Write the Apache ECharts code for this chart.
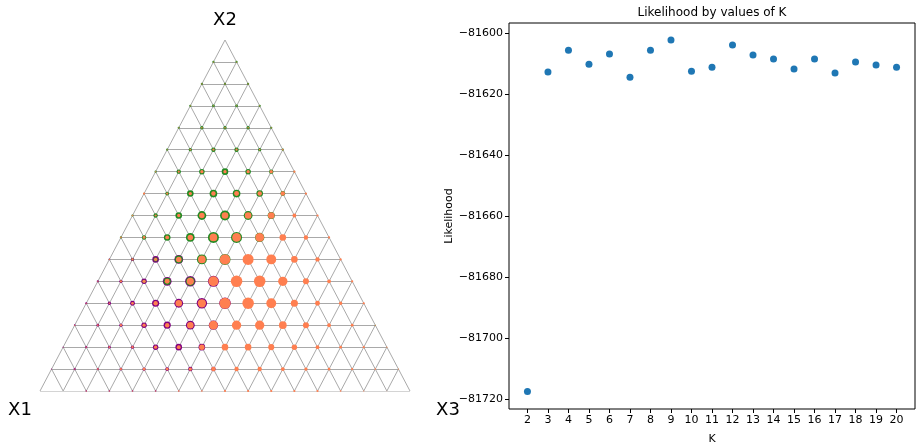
<!DOCTYPE html>
<html>
<head>
<meta charset="utf-8">
<script src="https://cdn.jsdelivr.net/npm/echarts@6/dist/echarts.min.js"></script>
<style>
  html, body { margin: 0; padding: 0; background: #fff; }
  #chart { width: 921px; height: 447px; }
</style>
</head>
<body>
<div id="chart"></div>
<script>
// ternary grid: 16 divisions, row r from apex (X2) down, j counts towards X3
const divisions = 16;

// component weights per grid vertex, one row per level
const purpleW = [
  [0],
  [0, 0],
  [0, 0, 0],
  [0, 0, 0, 0],
  [0, 0, 0, 0, 0],
  [0, 0, 0, 0, 0, 0],
  [0, 0, 0, 0, 0, 0, 0],
  [0, 0, 0, 0, 0, 0, 0, 0],
  [0, 0, 0, 0, 0, 0, 0, 0, 0],
  [0.5, 1, 1.5, 1, 1, 0, 0, 0, 0, 0],
  [1.5, 3, 6, 8, 3, 1, 0, 0, 0, 0, 0],
  [2, 3, 5, 8, 9.5, 10, 5, 2, 0, 0, 0, 0],
  [2, 3, 4.5, 6.5, 8, 9.5, 10.5, 3, 1, 0, 0, 0, 0],
  [1.5, 2.5, 3, 5, 6.5, 8, 8.5, 4, 1, 0, 0, 0, 0, 0],
  [1, 2, 2.5, 3, 5, 6, 6, 3, 1, 0, 0, 0, 0, 0, 0],
  [1, 2, 2, 2.5, 3, 3.5, 4, 4, 1.5, 0, 0, 0, 0, 0, 0, 0],
  [0, 0, 1.5, 1.5, 1.5, 1.5, 1, 0.5, 0, 0, 0, 0, 0, 0, 0, 0, 0]
];
const greenW = [
  [0],
  [2, 2],
  [2, 2, 2],
  [2, 2.5, 2.5, 2],
  [2, 3, 3, 3, 2],
  [2, 3, 4, 4, 3, 2],
  [2, 4, 5, 6, 5, 4, 1.5],
  [1.5, 3.5, 6, 7, 7, 6, 4.5, 1],
  [2, 4, 6, 8, 9, 8, 6.5, 2, 1],
  [2, 4, 6, 8, 10, 10, 8.5, 4, 1, 0.5],
  [1, 2, 4, 7, 9, 10, 6, 3, 1, 0.5, 0],
  [0.5, 1.5, 3, 6.5, 8, 6, 3, 1, 0.5, 0, 0, 0],
  [0, 0.5, 1, 2, 3, 4, 2, 1, 0, 0, 0, 0, 0],
  [0, 0, 0.5, 1, 1.5, 2, 1, 0.5, 0, 0, 0, 0, 0, 1],
  [0, 0, 0, 0, 0.5, 0.5, 0.5, 0, 0, 0, 0, 0, 0, 0, 0.5],
  [0, 0, 0, 0, 0, 0, 0, 0, 0, 0, 0, 0, 0, 0, 0, 0.5],
  [0, 0, 0, 0, 0, 0, 0, 0, 0, 0, 0, 0, 0, 0, 0, 0, 0]
];
const orangeW = [
  [0],
  [1, 1],
  [1, 1, 1],
  [1, 1, 1, 1],
  [1, 1.5, 1.5, 1.5, 1],
  [1, 1.5, 2, 2, 1.5, 1.5],
  [1, 2, 3, 3, 3, 3, 2],
  [2, 2, 3, 4, 4.5, 4, 4, 2],
  [1.5, 2, 3, 5, 6, 6, 6, 3.5, 2],
  [1.5, 2.5, 3.5, 5, 7, 8, 8, 6, 4, 2],
  [1, 2, 3, 5, 7, 9.5, 10, 9, 6, 4, 2],
  [1, 2, 3, 4.5, 6.5, 9, 10.5, 10.5, 8.5, 5.5, 3.5, 2],
  [1, 1.5, 2.5, 4, 6, 7.5, 10, 10.5, 9, 6.5, 4.5, 3, 2],
  [1, 1.5, 2, 3, 4, 6, 8, 8.5, 8.5, 7, 5.5, 3.5, 2.5, 1],
  [0.5, 1, 1.5, 2, 3, 3.5, 5, 6, 6, 5.5, 5, 3.5, 2.5, 2, 1],
  [0.5, 1, 1.5, 2, 2.5, 2.5, 3, 4, 4, 4, 3.5, 3, 2.5, 2, 1.5, 1],
  [0, 0, 1, 1, 1, 1, 1.5, 1.5, 2, 2, 2, 2, 2, 1.5, 1, 0.5, 0]
];

// likelihood by K
const kValues = [2, 3, 4, 5, 6, 7, 8, 9, 10, 11, 12, 13, 14, 15, 16, 17, 18, 19, 20];
const likelihood = [
  -81717.6, -81612.8, -81605.6, -81610.2, -81606.9, -81614.5, -81605.6, -81602.3, -81612.5,
  -81611.2, -81603.9, -81607.2, -81608.5, -81611.8, -81608.5, -81613.1, -81609.5, -81610.5, -81611.2
];
const yTicks = [-81720, -81700, -81680, -81660, -81640, -81620, -81600];

// vertex (r, j) -> (u, v) with u in [-N, N], v = height above base
function toTernary(weights) {
  const out = [];
  weights.forEach((row, r) => {
    row.forEach((w, j) => {
      if (w > 0) out.push([2 * j - r, divisions - r, w]);
    });
  });
  return out;
}

const gridSegs = [];
for (let k = 0; k <= divisions; k++) {
  gridSegs.push({ coords: [[-(divisions - k), k], [divisions - k, k]] });
  gridSegs.push({ coords: [[k, divisions - k], [2 * k - divisions, 0]] });
  gridSegs.push({ coords: [[-k, divisions - k], [divisions - 2 * k, 0]] });
}

const font = "DejaVu Sans";
const minus = v => String(v).replace("-", "\u2212");

const chart = echarts.init(document.getElementById("chart"), null, { renderer: "canvas" });

const dotSeries = (name, weights, color) => ({
  name: name,
  type: "scatter",
  xAxisIndex: 0,
  yAxisIndex: 0,
  data: toTernary(weights),
  symbolSize: d => d[2] * 1.1,
  itemStyle: { color: color, opacity: 1 },
  silent: true
});

chart.setOption({
  animation: false,
  textStyle: { fontFamily: font },
  grid: [
    { left: 40, top: 40, width: 370, height: 351, outerBoundsMode: "none" },
    { left: 509, top: 23, right: 6, bottom: 38, show: true, borderColor: "#000", borderWidth: 1, outerBoundsMode: "none" }
  ],
  xAxis: [
    { gridIndex: 0, type: "value", min: -divisions, max: divisions, show: false },
    {
      gridIndex: 1, type: "value", min: 1.1, max: 20.9,
      name: "K", nameLocation: "middle", nameGap: 25,
      nameTextStyle: { color: "#000", fontSize: 11, fontFamily: font },
      axisLine: { show: false },
      splitLine: { show: false },
      axisTick: { show: true, length: 4, customValues: kValues, lineStyle: { color: "#000" } },
      axisLabel: { customValues: kValues, color: "#000", fontSize: 11, margin: 6, fontFamily: font }
    }
  ],
  yAxis: [
    { gridIndex: 0, type: "value", min: 0, max: divisions, show: false },
    {
      gridIndex: 1, type: "value", min: -81723.3, max: -81596.7,
      name: "Likelihood", nameLocation: "middle", nameGap: 50, nameRotate: 90,
      nameTextStyle: { color: "#000", fontSize: 11, fontFamily: font },
      axisLine: { show: false },
      splitLine: { show: false },
      axisTick: { show: true, length: 4, customValues: yTicks, lineStyle: { color: "#000" } },
      axisLabel: { customValues: yTicks, color: "#000", fontSize: 11, margin: 6, formatter: minus, fontFamily: font }
    }
  ],
  graphic: [
    { type: "text", x: 225, y: 20, style: { text: "X2", font: "18px DejaVu Sans", fill: "#000", textAlign: "center", textVerticalAlign: "middle" } },
    { type: "text", x: 20, y: 410, style: { text: "X1", font: "18px DejaVu Sans", fill: "#000", textAlign: "center", textVerticalAlign: "middle" } },
    { type: "text", x: 448, y: 410, style: { text: "X3", font: "18px DejaVu Sans", fill: "#000", textAlign: "center", textVerticalAlign: "middle" } },
    { type: "text", x: 712, y: 13, style: { text: "Likelihood by values of K", font: "12px DejaVu Sans", fill: "#000", textAlign: "center", textVerticalAlign: "middle" } }
  ],
  series: [
    {
      type: "lines",
      coordinateSystem: "cartesian2d",
      xAxisIndex: 0,
      yAxisIndex: 0,
      data: gridSegs,
      lineStyle: { color: "#a9a9a9", width: 1, opacity: 1 },
      silent: true
    },
    dotSeries("X1 component", purpleW, "#800080"),
    dotSeries("X2 component", greenW, "#228b22"),
    dotSeries("X3 component", orangeW, "#ff7f50"),
    {
      type: "scatter",
      xAxisIndex: 1,
      yAxisIndex: 1,
      data: kValues.map((k, i) => [k, likelihood[i]]),
      symbolSize: 7,
      itemStyle: { color: "#1f77b4", opacity: 1 }
    }
  ]
});
</script>
</body>
</html>
